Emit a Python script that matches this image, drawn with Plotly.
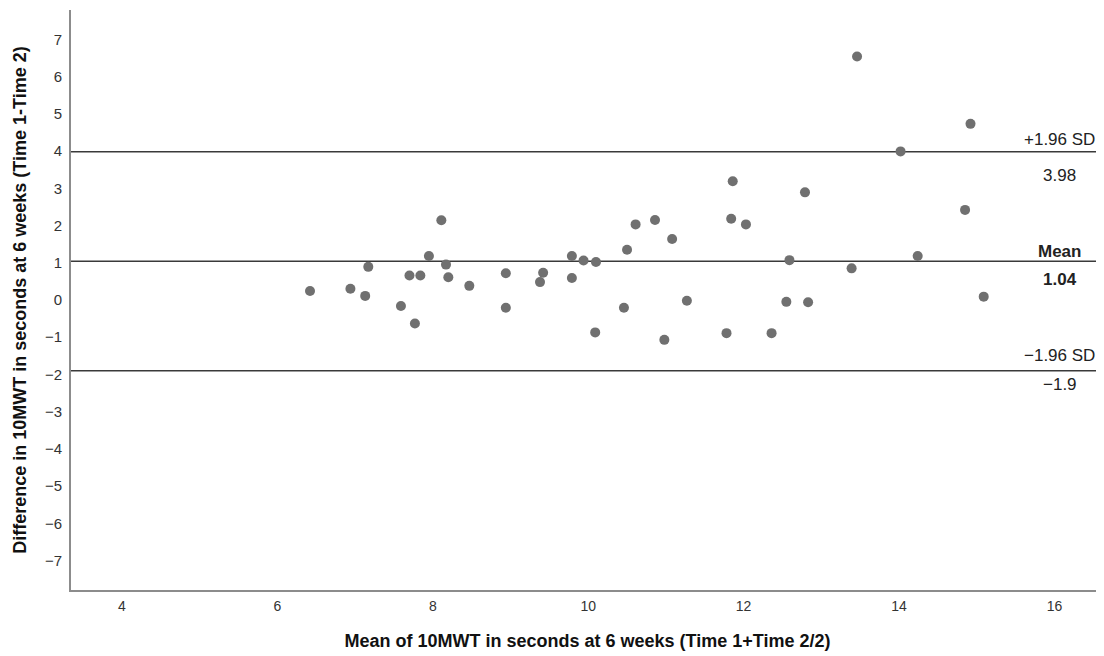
import plotly.graph_objects as go

# Bland-Altman data
mean_vals = [6.42, 6.94, 7.13, 7.17, 7.59, 7.70, 7.77, 7.84, 7.95, 8.11,
             8.17, 8.20, 8.47, 8.94, 8.94, 9.38, 9.42, 9.79, 9.79, 9.94,
             10.10, 10.09, 10.46, 10.50, 10.61, 10.86, 10.98, 11.08, 11.27, 11.78,
             11.84, 11.86, 12.03, 12.36, 12.55, 12.59, 12.79, 12.83, 13.39, 13.46,
             14.02, 14.24, 14.85, 14.92, 15.09]
diff_vals = [0.24, 0.30, 0.11, 0.89, -0.16, 0.66, -0.63, 0.66, 1.18, 2.14,
             0.95, 0.61, 0.38, 0.72, -0.21, 0.48, 0.73, 1.18, 0.59, 1.06,
             1.02, -0.87, -0.21, 1.35, 2.03, 2.15, -1.07, 1.64, -0.02, -0.89,
             2.18, 3.19, 2.03, -0.89, -0.05, 1.07, 2.89, -0.06, 0.85, 6.54,
             3.99, 1.18, 2.42, 4.73, 0.09]

line_values = [3.98, 1.04, -1.9]
line_names = ["+1.96 SD", "Mean", "\u22121.96 SD"]
line_value_labels = ["3.98", "1.04", "\u22121.9"]
line_bold = [False, True, False]

x_ticks = [4, 6, 8, 10, 12, 14, 16]
y_ticks = list(range(-7, 8))

x_title = "Mean of 10MWT in seconds at 6 weeks (Time 1+Time 2/2)"
y_title = "Difference in 10MWT in seconds at 6 weeks (Time 1-Time 2)"

FONT = "Liberation Sans, Arial, sans-serif"

fig = go.Figure()
fig.add_trace(go.Scatter(
    x=mean_vals, y=diff_vals, mode="markers",
    marker=dict(size=10, color="#707070", line=dict(width=0)),
    showlegend=False, hoverinfo="x+y",
))

# label offsets (px) above / below each line
above_shift = [12, 10, 15]
below_shift = [-24, -18, -14]

for i, v in enumerate(line_values):
    fig.add_shape(type="line", xref="paper", x0=0, x1=1, yref="y", y0=v, y1=v,
                  line=dict(color="#3a3a3a", width=1.5), layer="below")
    name = line_names[i]
    val = line_value_labels[i]
    if line_bold[i]:
        name = "<b>" + name + "</b>"
        val = "<b>" + val + "</b>"
    fig.add_annotation(xref="paper", x=0.9574, yref="y", y=v, text=name,
                       showarrow=False, xanchor="center", yanchor="middle",
                       yshift=above_shift[i],
                       font=dict(family=FONT, size=17, color="#222"))
    fig.add_annotation(xref="paper", x=0.9574, yref="y", y=v, text=val,
                       showarrow=False, xanchor="center", yanchor="middle",
                       yshift=below_shift[i],
                       font=dict(family=FONT, size=17, color="#222"))

# page body has an 8px margin, so the figure is sized to end at the window edge
fig.update_layout(
    width=1096, height=648,
    margin=dict(l=63, r=0, t=2, b=66),
    paper_bgcolor="white", plot_bgcolor="white",
    font=dict(family=FONT, color="#333"),
    xaxis=dict(
        range=[3.344, 16.638], tickvals=x_ticks, ticktext=[str(t) for t in x_ticks],
        showgrid=False, zeroline=False, showline=True, linecolor="#8c8c8c", linewidth=2,
        ticks="", ticklabelstandoff=2, automargin=False,
        tickfont=dict(family=FONT, size=14, color="#333"),
        title=dict(text="<b>" + x_title + "</b>", standoff=22,
                   font=dict(family=FONT, size=18, color="#111")),
    ),
    yaxis=dict(
        range=[-7.787, 7.787], tickvals=y_ticks,
        showgrid=False, zeroline=False, showline=True, linecolor="#8c8c8c", linewidth=2,
        ticks="", ticklabelstandoff=4, automargin=False,
        tickfont=dict(family=FONT, size=15, color="#333"),
        title=dict(text="<b>" + y_title + "</b>", standoff=14,
                   font=dict(family=FONT, size=18, color="#111")),
    ),
)

fig.write_html("out.html")
